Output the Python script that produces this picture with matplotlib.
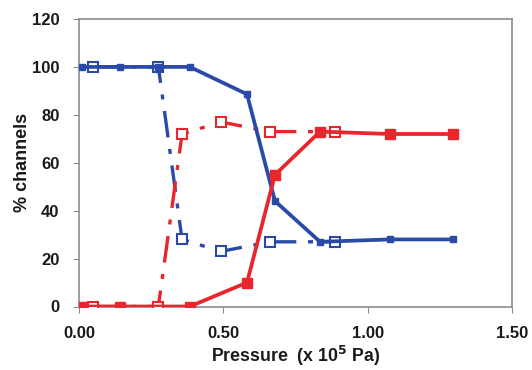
import matplotlib
matplotlib.use("Agg")
import matplotlib.pyplot as plt

plt.rcParams['font.family'] = ['Liberation Sans', 'DejaVu Sans']

# Pressure (x 10^5 Pa) and % channels for each series
blue_solid_x = [0.01, 0.142, 0.274, 0.384, 0.582, 0.679, 0.835, 1.077, 1.295]
blue_solid_y = [100, 100, 100, 100, 88.6, 44, 27, 28, 28]

red_solid_x = [0.01, 0.142, 0.384, 0.582, 0.679, 0.835, 1.077, 1.295]
red_solid_y = [0, 0, 0, 10, 55, 73, 72, 72]

blue_dash_x = [0.048, 0.275, 0.357, 0.492, 0.662, 0.887]
blue_dash_y = [100, 100, 28, 23, 27, 27]

red_dash_x = [0.048, 0.275, 0.357, 0.492, 0.662, 0.887]
red_dash_y = [0, 0, 72, 77, 73, 73]

x_ticks = [0.0, 0.5, 1.0, 1.5]
x_tick_labels = ["0.00", "0.50", "1.00", "1.50"]
y_ticks = [0, 20, 40, 60, 80, 100, 120]

BLUE = "#2a4aa8"
RED = "#e8262b"

fig = plt.figure(figsize=(5.32, 3.70), dpi=100)
ax = fig.add_axes([79 / 532, 1 - 306.5 / 370, (512 - 79) / 532, (306.5 - 19) / 370])

dash = (8, 3.5, 1.5, 3.5)
ax.plot(blue_dash_x, blue_dash_y, color=BLUE, lw=2.4, dashes=dash,
        marker="s", ms=7.5, mfc="white", mec=BLUE, mew=1.5, zorder=3)
ax.plot(red_dash_x, red_dash_y, color=RED, lw=2.4, dashes=dash,
        marker="s", ms=7.5, mfc="white", mec=RED, mew=1.5, zorder=3)
ax.plot(blue_solid_x, blue_solid_y, color=BLUE, lw=2.7,
        marker="s", ms=5, mfc=BLUE, mec=BLUE, zorder=4)
ax.plot(red_solid_x, red_solid_y, color=RED, lw=2.7,
        marker="s", ms=7, mfc=RED, mec=RED, zorder=4)

ax.set_xlim(0, 1.5)
ax.set_ylim(0, 120)
ax.set_xticks(x_ticks)
ax.set_xticklabels(x_tick_labels)
ax.set_yticks(y_ticks)

for s in ax.spines.values():
    s.set_color("#8c8c8c")
    s.set_linewidth(1.2)
ax.tick_params(axis="both", direction="out", length=4, color="#8c8c8c",
               labelsize=12)
ax.tick_params(axis="x", pad=10)
ax.tick_params(axis="y", pad=10)
for lbl in ax.get_xticklabels() + ax.get_yticklabels():
    lbl.set_fontweight("bold")
    lbl.set_color("#1a1a1a")

ax.set_xlabel(r"Pressure  (x 10$^{\mathbf{5}}$ Pa)", fontsize=12.8,
              fontweight="bold", color="#1a1a1a", labelpad=2)
ax.set_ylabel("% channels", fontsize=13, fontweight="bold",
              color="#1a1a1a", labelpad=1)

fig.savefig("out.png", dpi=100)
